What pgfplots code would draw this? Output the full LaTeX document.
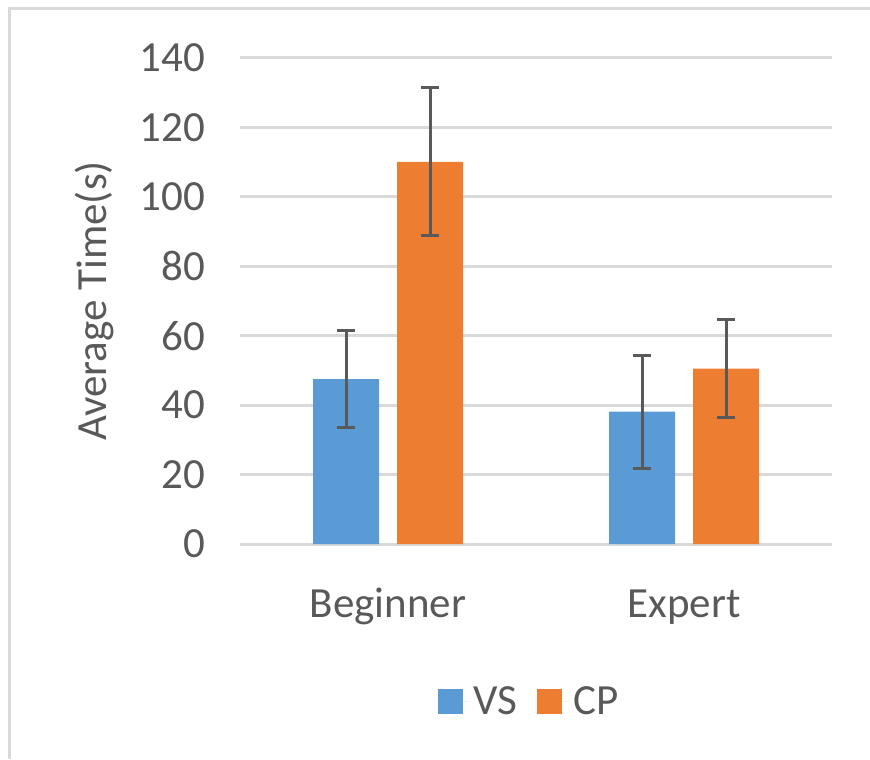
\documentclass[border=0pt]{standalone}
\usepackage{pgfplots}
\pgfplotsset{compat=1.18}
\usepackage{fontspec}
\setmainfont{Carlito}
\definecolor{vsblue}{HTML}{5B9BD5}
\definecolor{cporange}{HTML}{ED7D31}
\definecolor{gridgray}{HTML}{D9D9D9}
\definecolor{txtgray}{HTML}{595959}
\begin{document}
\begin{tikzpicture}
\path[use as bounding box] (0pt,0pt) rectangle (435pt,379.5pt);
\draw[gridgray, line width=1.5pt] (4.75pt,0pt) -- (4.75pt,375pt) -- (435pt,375pt);
\begin{axis}[
  at={(120pt,107.5pt)}, anchor=south west,
  width=296pt, height=243pt, scale only axis,
  ybar=9pt, bar width=33pt,
  xmin=-0.5, xmax=1.5, ymin=0, ymax=140,
  xtick=data, xticklabels={Beginner,Expert},
  ytick={0,20,...,140},
  axis line style={draw=none},
  major tick length=0pt,
  ymajorgrids, grid style={gridgray, line width=1.5pt},
  font=\fontsize{21.5}{26}\selectfont,
  tick label style={text=txtgray},
  /pgf/number format/assume math mode=true,
  y tick label style={anchor=east, xshift=-14pt},
  x tick label style={anchor=base, yshift=-36.5pt},
  ylabel={Average Time(s)},
  ylabel style={text=txtgray, at={(axis description cs:-0.245,0.5)}, anchor=center},
  legend style={draw=none, fill=none, at={(axis description cs:0.49,-0.325)}, anchor=center,
    text=txtgray, font=\fontsize{21.5}{26}\selectfont, /tikz/every even column/.append style={column sep=8pt}},
  legend columns=2,
  legend image code/.code={\fill[#1] (0pt,-6.25pt) rectangle (12.5pt,6.25pt); \path (0pt,0pt) -- (16pt,0pt);},
  every axis plot/.append style={draw=none},
  error bars/y dir=both, error bars/y explicit,
  error bars/error bar style={txtgray, line width=1.5pt},
  error bars/error mark options={rotate=90, mark size=4.5pt, line width=1.5pt, txtgray},
]
\addplot[fill=vsblue, draw=none] coordinates {(0,47.5) +- (0,14.0) (1,38.1) +- (0,16.3)};
\addplot[fill=cporange, draw=none] coordinates {(0,110.1) +- (0,21.3) (1,50.5) +- (0,14.1)};
\legend{VS,CP}
\end{axis}
\end{tikzpicture}
\end{document}
